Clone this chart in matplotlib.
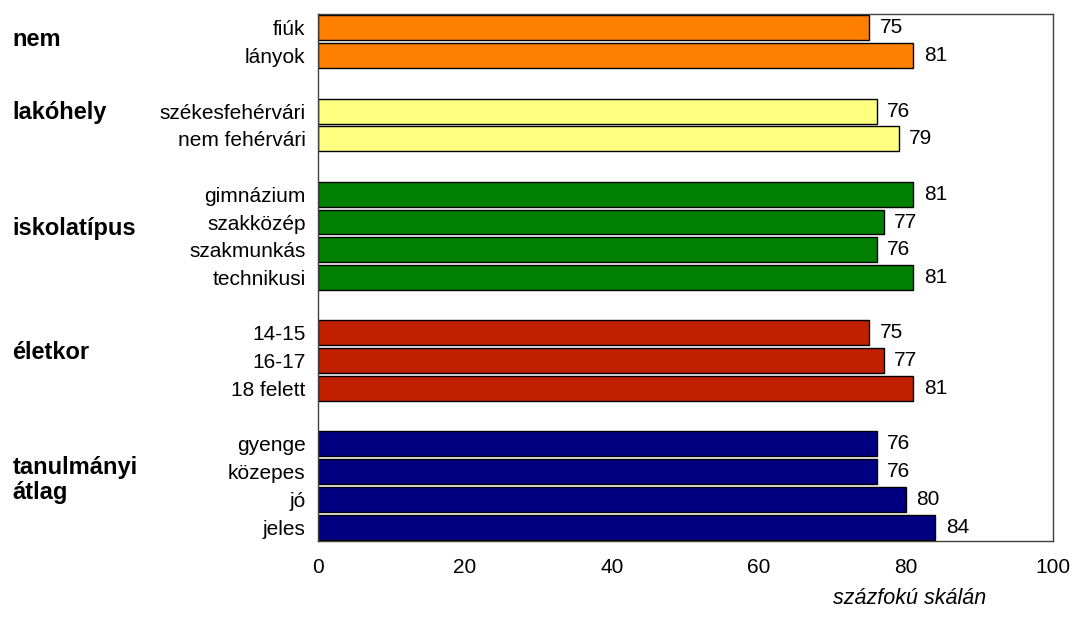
import matplotlib.pyplot as plt

plt.rcParams['font.family'] = ['Liberation Sans', 'DejaVu Sans']

# categories per group (top to bottom)
groups = ['nem', 'lakóhely', 'iskolatípus', 'életkor', 'tanulmányi\nátlag']
categories = [
    ['fiúk', 'lányok'],
    ['székesfehérvári', 'nem fehérvári'],
    ['gimnázium', 'szakközép', 'szakmunkás', 'technikusi'],
    ['14-15', '16-17', '18 felett'],
    ['gyenge', 'közepes', 'jó', 'jeles'],
]
values = [
    [75, 81],
    [76, 79],
    [81, 77, 76, 81],
    [75, 77, 81],
    [76, 76, 80, 84],
]
colors = ['#FF8000', '#FFFF80', '#008000', '#C02000', '#000080']
group_label_pos = [0.43, 3.07, 7.22, 11.7, 16.3]

fig = plt.figure(figsize=(10.73, 6.35), dpi=100)
ax = fig.add_axes([0.2964, 0.148, 0.685, 0.83])

pos = 0
ticks, ticklabels = [], []
for g, (cats, vals, col) in enumerate(zip(categories, values, colors)):
    for c, v in zip(cats, vals):
        ax.barh(pos, v, height=0.9, color=col, edgecolor='black', linewidth=1)
        ax.text(v + 1.4, pos, str(v), va='center', ha='left', fontsize=15)
        ticks.append(pos)
        ticklabels.append(c)
        pos += 1
    pos += 1

for name, y in zip(groups, group_label_pos):
    ax.text(-0.416, y, name, transform=ax.get_yaxis_transform(), ha='left',
            va='center', fontsize=17, fontweight='bold', linespacing=1.1)

ax.set_xlim(0, 100)
ax.set_ylim(pos - 1.5, -0.5)
ax.set_yticks(ticks)
ax.set_yticklabels(ticklabels, fontsize=15)
ax.set_xticks(range(0, 101, 20))
ax.tick_params(axis='x', length=0, pad=12, labelsize=15)
ax.tick_params(axis='y', length=0, pad=9)
for s in ax.spines.values():
    s.set_color('#404040')
    s.set_linewidth(1)

fig.text(0.848, 0.058, 'százfokú skálán', ha='center', va='center',
         fontsize=15.5, style='italic')

fig.savefig('out.png', dpi=100)
